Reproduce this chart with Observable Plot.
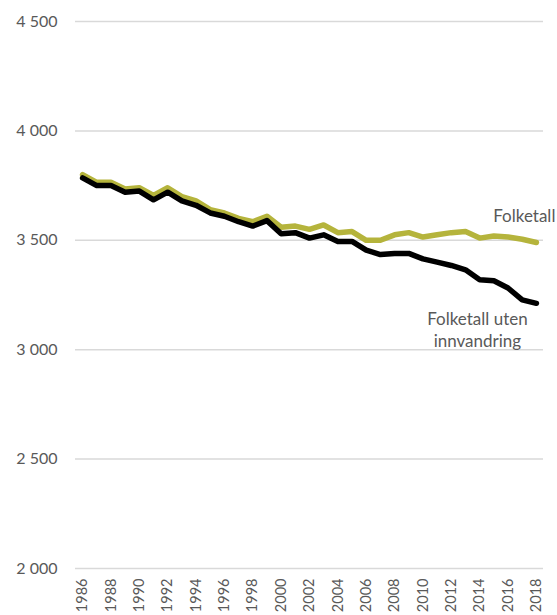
<!DOCTYPE html>
<html>
<head>
<meta charset="utf-8">
<script src="https://cdn.jsdelivr.net/npm/d3@7"></script>
<script src="https://cdn.jsdelivr.net/npm/@observablehq/plot@0.6"></script>
<style>
  html, body { margin: 0; padding: 0; background: #fff; }
  #chart svg { display: block; }
</style>
</head>
<body>
<div id="chart"></div>
<script>
const years = d3.range(1986, 2019);
const folketall = [3800, 3765, 3765, 3735, 3740, 3705, 3740, 3700, 3680, 3640, 3625, 3600, 3585, 3610, 3560, 3565, 3550, 3570, 3535, 3540, 3500, 3500, 3525, 3535, 3515, 3525, 3535, 3540, 3510, 3520, 3515, 3505, 3490];
const utenInnvandring = [3785, 3750, 3750, 3720, 3725, 3685, 3720, 3680, 3660, 3625, 3610, 3585, 3565, 3590, 3530, 3535, 3510, 3525, 3495, 3495, 3455, 3435, 3440, 3440, 3415, 3400, 3385, 3365, 3320, 3315, 3282, 3228, 3212];
const seriesNames = ["Folketall", "Folketall uten\ninnvandring"];
const yTicks = [2000, 2500, 3000, 3500, 4000, 4500];
const xTicks = d3.range(1986, 2019, 2);

const rows = [];
years.forEach((y, i) => {
  rows.push({year: y, value: folketall[i], series: seriesNames[0]});
  rows.push({year: y, value: utenInnvandring[i], series: seriesNames[1]});
});
const last = years.length - 1;
const labels = [
  {year: years[last], value: folketall[last], text: seriesNames[0]},
  {year: years[last], value: utenInnvandring[last], text: seriesNames[1]}
];
const fmt = d => d3.format(",")(d).replace(/,/g, " ");

const chart = Plot.plot({
  width: 557,
  height: 615,
  marginLeft: 75,
  marginRight: 14,
  marginTop: 21,
  marginBottom: 47,
  style: {fontFamily: "Lato, 'Open Sans', sans-serif", color: "#595959", background: "#fff"},
  x: {domain: [1985.5, 2018.5], label: null},
  y: {domain: [2000, 4500], label: null},
  marks: [
    Plot.gridY(yTicks, {stroke: "#d9d9d9", strokeOpacity: 1, strokeWidth: 1.5}),
    Plot.axisY(yTicks, {tickSize: 0, tickPadding: 18, tickFormat: fmt, fontSize: 16, fill: "#595959", label: null}),
    Plot.axisX(xTicks, {tickSize: 0, tickPadding: 10, tickRotate: -90, tickFormat: d => String(d), fontSize: 14.5, fill: "#595959", label: null}),
    Plot.line(rows.filter(d => d.series === seriesNames[0]), {x: "year", y: "value", stroke: "#b5b43c", strokeWidth: 5.5, strokeLinejoin: "round"}),
    Plot.line(rows.filter(d => d.series === seriesNames[1]), {x: "year", y: "value", stroke: "#000000", strokeWidth: 5.5, strokeLinejoin: "round"}),
    Plot.text([labels[0]], {x: "year", y: "value", text: "text", dx: 19, dy: -26, textAnchor: "end", fontSize: 17, fill: "#595959"}),
    Plot.text([labels[1]], {x: "year", y: "value", text: "text", dx: -59, dy: 26, textAnchor: "middle", lineAnchor: "middle", lineHeight: 1.3, fontSize: 17, fill: "#595959"})
  ]
});
document.getElementById("chart").appendChild(chart);
</script>
</body>
</html>
